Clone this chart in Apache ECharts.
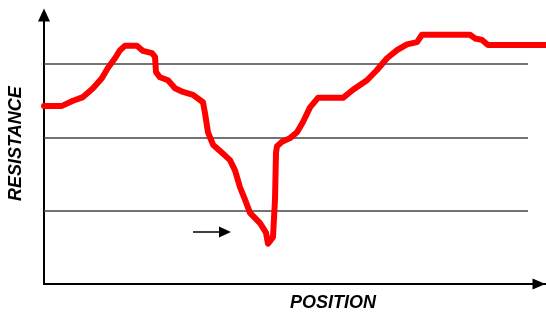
<!DOCTYPE html>
<html>
<head>
<meta charset="utf-8">
<script src="https://cdn.jsdelivr.net/npm/echarts@6/dist/echarts.min.js"></script>
<style>html,body{margin:0;padding:0;background:#fff}#c{width:546px;height:312px}</style>
</head>
<body>
<div id="c"></div>
<script>
// position (x) and resistance (y) of the traced curve
const positions = [0,18,29,39,49,58,64,71,76,81,93,99,108,111,112,116,124,131,139,149,159,161,164,169,178,186,191,196,201,206,216,222,224,229,231,232,233,238,246,253,259,266,274,299,309,323,333,343,353,363,373,378,426,431,438,444,505];
const resistance = [2.43,2.43,2.50,2.55,2.67,2.81,2.95,3.08,3.19,3.25,3.25,3.18,3.15,3.10,2.89,2.82,2.78,2.67,2.62,2.58,2.48,2.33,2.07,1.90,1.79,1.69,1.55,1.32,1.15,0.97,0.83,0.70,0.55,0.64,1.15,1.79,1.88,1.94,1.99,2.07,2.21,2.41,2.54,2.54,2.65,2.78,2.92,3.08,3.19,3.27,3.30,3.40,3.40,3.35,3.33,3.26,3.26];
const levels = [1, 2, 3];
const levelEnd = 484;
const arrowFrom = [149, 0.71];
const arrowTo = [181, 0.71];
const xLabel = 'POSITION';
const yLabel = 'RESISTANCE';

const chart = echarts.init(document.getElementById('c'), null, {renderer: 'canvas'});
const curve = positions.map((x, i) => [x, resistance[i]]);
chart.setOption({
  animation: false,
  grid: {left: 44, right: 0, top: 15, bottom: 28},
  xAxis: {
    type: 'value', min: 0, max: 502,
    axisLine: {show: true, symbol: ['none', 'triangle'], symbolSize: [11, 13], symbolOffset: [0, -7], lineStyle: {color: '#000', width: 2}},
    axisTick: {show: false}, axisLabel: {show: false}, splitLine: {show: false}
  },
  yAxis: {
    type: 'value', min: 0, max: 3.67,
    axisLine: {show: true, symbol: ['none', 'triangle'], symbolSize: [12, 13], lineStyle: {color: '#000', width: 2}},
    axisTick: {show: false}, axisLabel: {show: false}, splitLine: {show: false}
  },
  series: [
    {
      type: 'line', data: [], silent: true,
      markLine: {
        silent: true, symbol: 'none', animation: false,
        label: {show: false},
        lineStyle: {color: '#444', width: 1.5, type: 'solid'},
        data: levels.map(v => [{coord: [0, v]}, {coord: [levelEnd, v]}])
      }
    },
    {
      type: 'line', data: curve, clip: false, showSymbol: false, silent: true,
      lineStyle: {color: '#ff0000', width: 6, join: 'round', cap: 'round'},
      z: 5
    },
    {
      type: 'line', data: [], silent: true,
      markLine: {
        silent: true, symbol: ['none', 'triangle'], symbolSize: [11, 12], animation: false,
        label: {show: false},
        lineStyle: {color: '#000', width: 1.5, type: 'solid'},
        data: [[{coord: arrowFrom}, {coord: arrowTo}]]
      }
    }
  ],
  graphic: [
    {type: 'text', left: 290, top: 294, style: {text: xLabel, font: 'italic bold 18px "Liberation Sans", Arial, sans-serif', fill: '#000'}},
    {type: 'text', x: 7, y: 201, rotation: Math.PI / 2, style: {text: yLabel, font: 'italic bold 18px "Liberation Sans", Arial, sans-serif', fill: '#000'}}
  ]
});
</script>
</body>
</html>
